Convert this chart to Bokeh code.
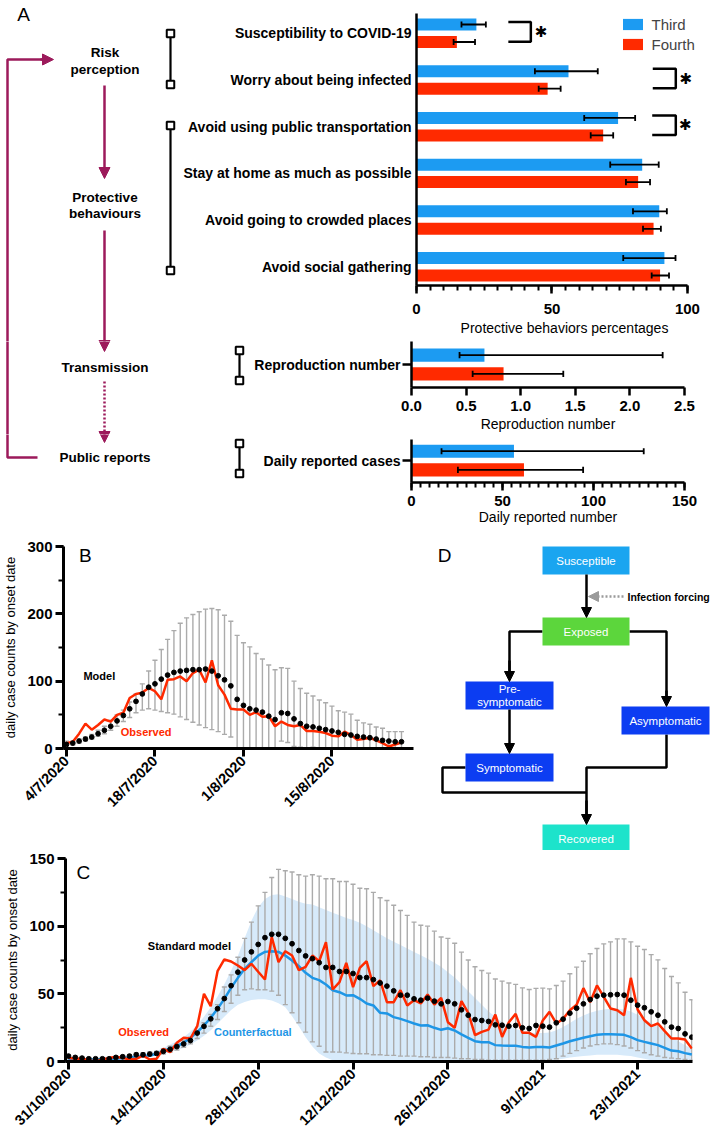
import math
from bokeh.plotting import figure
from bokeh.layouts import column, row
from bokeh.models import (Range1d, Arrow, NormalHead, SingleIntervalTicker, FixedTicker,
                          NumeralTickFormatter, Legend, LegendItem, Label)
from bokeh.core.properties import value
from bokeh.embed import file_html
from bokeh.resources import INLINE

# ---------------- data ----------------
categories = ["Susceptibility to COVID-19", "Worry about being infected",
              "Avoid using public transportation", "Stay at home as much as possible",
              "Avoid going to crowded places", "Avoid social gathering"]
third_pct = [22.1, 56.1, 74.4, 83.3, 89.6, 91.5]
third_lo = [16.6, 43.7, 61.9, 71.5, 79.9, 76.3]
third_hi = [25.6, 66.9, 80.7, 89.4, 92.4, 95.6]
fourth_pct = [14.9, 48.4, 68.9, 81.8, 87.5, 89.9]
fourth_lo = [13.7, 45.1, 64.3, 77.3, 83.6, 86.8]
fourth_hi = [21.6, 53.2, 72.6, 86.2, 90.2, 93.2]
significant = [0, 1, 2]
series_names = ["Third", "Fourth"]

r_label = ["Reproduction number"]
r_third = [0.668]; r_third_lo = [0.44]; r_third_hi = [2.30]
r_fourth = [0.843]; r_fourth_lo = [0.56]; r_fourth_hi = [1.39]

d_label = ["Daily reported cases"]
d_third = [56.3]; d_third_lo = [16.5]; d_third_hi = [127.6]
d_fourth = [61.8]; d_fourth_lo = [25.5]; d_fourth_hi = [94.3]

flow_node_lines = [["Risk", "perception"], ["Protective", "behaviours"], ["Transmission"], ["Public reports"]]

# Panel B (days from 4/7/2020)
b_tick_days = [0, 14, 28, 42]
b_tick_labels = ["4/7/2020", "18/7/2020", "1/8/2020", "15/8/2020"]
model_b = [6, 8, 11, 14, 17, 22, 27, 33, 41, 49, 59, 70, 81, 91, 96, 103, 109, 113, 115, 116,
           117, 117, 118, 115, 108, 102, 93, 73, 64, 59, 57, 54, 48, 43, 53, 52, 44, 37, 33, 32,
           30, 28, 26, 24, 21, 20, 18, 17, 16, 14, 12, 11, 10, 10]
upper_b = [11, 11, 14, 17, 21, 27, 33, 42, 50, 57, 69, 81, 96, 115, 131, 147, 162, 175, 186, 194,
           199, 203, 207, 208, 206, 198, 189, 168, 157, 151, 141, 133, 124, 117, 120, 119, 100, 89, 82, 78,
           72, 68, 63, 56, 54, 51, 42, 38, 36, 32, 30, 25, 25, 25]
lower_b = [4, 5, 8, 11, 14, 18, 22, 27, 33, 40, 46, 53, 57, 59, 57, 55, 53, 51, 47, 43,
           39, 35, 31, 28, 25, 21, 17, 0, 0, 0, 0, 0, 0, 0, 11, 9, 3, 2, 1, 2,
           1, 1, 0, 0, 0, 0, 0, 0, 0, 0, 0, 0, 0, 0]
obs_b = [8, 10, 22, 37, 28, 35, 43, 40, 50, 53, 75, 81, 83, 90, 85, 73, 102, 103, 107, 100,
         112, 117, 98, 131, 94, 80, 59, 58, 58, 50, 54, 47, 48, 33, 40, 35, 33, 35, 26, 26,
         25, 23, 19, 18, 25, 20, 13, 14, 16, 12, 8, 3, 6, 9]
days_b = list(range(len(model_b)))

# Panel C (days from 31/10/2020)
c_tick_days = [0, 14, 28, 42, 56, 70, 84]
c_tick_labels = ["31/10/2020", "14/11/2020", "28/11/2020", "12/12/2020",
                 "26/12/2020", "9/1/2021", "23/1/2021"]
model_c = [4, 3, 2.5, 2, 2, 2, 2, 3, 3.5, 4,
           5, 5, 5.5, 6, 7.5, 9, 11, 13, 15.5, 21,
           26, 31.5, 39, 46.5, 56, 66, 75, 81, 86.5, 91.5,
           94, 94, 91, 87, 82, 78, 76, 73, 69.5, 69.5,
           66.5, 66.5, 65, 62, 62, 60.5, 58, 55.7, 52.2, 49,
           49, 46.3, 45.3, 46.8, 44.6, 42.6, 44.3, 42.6, 38.2, 34.2,
           31, 30.3, 29.6, 27.1, 26.8, 26.1, 26.6, 24.9, 24.4, 26.6,
           26.1, 25.4, 28.6, 31.3, 35.7, 39.4, 42.6, 45.8, 48.3, 49,
           49.3, 49.5, 49, 45.3, 41.6, 39.7, 36.7, 34.2, 29.3, 25.4,
           24.4, 20.4, 18]
upper_c = [4.7, 4, 3.5, 3, 3, 3, 3, 4, 4.5, 5,
           6.4, 6.5, 7, 7.5, 9.4, 11.3, 13, 15.5, 18, 22.4,
           28.6, 34.7, 42, 55, 64, 77, 91, 103, 115, 125,
           136, 142, 141, 140, 138, 137, 138, 137, 135, 135,
           133, 133, 131, 128, 127.6, 125, 121, 119, 115.5, 111.6,
           108, 103, 100.7, 100, 96.3, 92, 91, 87.4, 80.8, 75,
           70, 67.2, 65.3, 61, 59.4, 58, 57, 54.4, 53.2, 54,
           54.2, 53.7, 56.2, 59.4, 64.8, 69.7, 74.1, 79.6, 83.5, 86.9,
           88.4, 90.6, 90.6, 88.4, 85.2, 82.8, 79, 75.1, 68.7, 62.8,
           58.1, 51.2, 45.6]
lower_c = [1, 1, 1, 1, 1, 1, 1, 1.5, 2, 2.5,
           3, 3.5, 4, 4.5, 5.5, 7, 8.5, 10.5, 13, 17,
           21, 26, 31, 37, 43, 49, 53, 53.7, 53, 53,
           52, 49, 42, 36, 28.6, 21.7, 14.5, 11.3, 7, 7,
           6.9, 6.4, 5.9, 5.7, 5.7, 5, 5, 4.5, 4.5, 4,
           4, 4, 3.5, 3.5, 3, 3, 3, 2.5, 2, 2,
           1.5, 1.5, 1, 1, 1, 1, 1, 1, 1, 1,
           1, 1.5, 2, 4, 6, 8, 10, 11.5, 12.5, 13,
           13, 12.5, 11.5, 10, 8, 6.5, 5, 4, 3, 2.5,
           2, 1.5, 1]
obs_c = [2.7, 2, 2.2, 1, 0, 1.5, 2.7, 3.4, 2.7, 1.5,
         2, 4.4, 1.5, 2, 9.4, 6.9, 13.8, 17.5, 17, 26.1,
         50, 40.9, 66.7, 75.4, 73.9, 70.9, 67.5, 72.2, 66.3, 60.6,
         92, 73.4, 81.5, 78.3, 67.5, 70, 78.3, 74.1, 88.2, 53.2,
         58.6, 72.9, 54.9, 69.2, 74.1, 55.7, 60, 43.8, 43.8, 52.7,
         41.4, 45.3, 42.9, 49.5, 42.1, 47, 29, 24.9, 44.6, 36,
         19.5, 21.9, 23.6, 34.7, 18.2, 29, 35.2, 21.2, 21.2, 18.2,
         30.3, 36.7, 28.1, 31.5, 37.9, 41.9, 54.2, 43.8, 56.2, 47.8,
         39.2, 37.9, 34.2, 61.8, 38.4, 30.5, 26.1, 28.1, 22.4, 17,
         17, 16.3, 9.6]
cf_c = [2, 1.5, 1.5, 1.5, 1.5, 1.5, 2, 2, 2.5, 3,
        3.5, 4, 4.5, 5.5, 7.6, 9.6, 11.3, 13.8, 17.5, 21.7,
        26.6, 32.3, 38.9, 46.3, 54.4, 61.8, 68.5, 73.4, 78.3, 81,
        81.5, 81, 78.3, 74.6, 70.4, 65.5, 61.8, 60.1, 56.9, 52.7,
        51.2, 48.8, 49, 46.3, 42.9, 41.4, 36, 35.5, 32.8, 31.5,
        29.8, 28.1, 26.6, 26.8, 24.9, 23.4, 24.6, 22.9, 20, 17.5,
        15, 14.3, 14.3, 12.1, 11.8, 11.6, 11.6, 10.8, 10.3, 10.8,
        10.8, 10.3, 11.8, 13.3, 15, 16.3, 17.5, 18.7, 19.7, 20.2,
        20.2, 20, 19.7, 18, 15.8, 14.5, 13.3, 12.1, 10.1, 8.1,
        7.6, 6.2, 5.2]
cf_hi = [3, 2.5, 2.5, 2.5, 2.5, 2.5, 3, 3, 3.5, 4,
         5, 5.5, 6.5, 7.5, 10, 12.5, 15, 18, 22, 27,
         33, 40, 48, 57, 67, 78, 91, 104, 114, 120,
         123, 123.5, 122, 120, 118, 116.5, 116, 114, 112, 110,
         108, 106, 104.5, 102.5, 100, 97, 94, 91, 88.5, 86,
         83.5, 81, 78.5, 76, 73, 70, 66, 62, 57, 52,
         47, 42, 37, 33, 29, 26, 24, 22.5, 21.5, 21,
         21, 21.5, 23, 25.5, 28.5, 31.5, 34, 36, 37.5, 38.5,
         39, 39, 38.5, 37, 34.5, 31.5, 28.5, 25.5, 22, 18.5,
         15, 12, 9.5]
cf_lo = [1, 1, 1, 1, 1, 1, 1, 1.5, 1.5, 2,
         2.5, 3, 3.5, 4, 5.5, 7, 8.5, 10, 12.5, 15.5,
         19, 23, 28, 33, 38, 42, 44, 45.5, 46, 46,
         45, 43, 40, 33.5, 26, 18, 11, 6, 3, 1,
         0.5, 0.3, 0.3, 0.3, 0.3, 0.3, 0.3, 0.3, 0.3, 0.3,
         0.3, 0.3, 0.3, 0.3, 0.3, 0.3, 0.3, 0.3, 0.3, 0.3,
         0.3, 0.3, 0.3, 0.3, 0.3, 0.3, 0.3, 0.3, 0.3, 0.3,
         0.5, 1, 1.5, 2, 3, 3.5, 4, 4.5, 5, 5,
         5, 5, 4.5, 4, 3, 2, 1, 0.5, 0.3, 0.3,
         0.3, 0.3, 0.3]
days_c = list(range(len(model_c)))

d_nodes = ["Susceptible", "Exposed", "Pre-|symptomatic", "Asymptomatic", "Symptomatic", "Recovered"]

# ---------------- style ----------------
FONT = "Liberation Sans"
NARROW = "Liberation Sans Narrow, Liberation Sans"
BLUE = "#1C9BF2"
RED = "#FF2A00"
MAG = "#9C1A5B"
GRAY = "#ABABAB"
CFBLUE = "#1E96E6"
BAND = "#D7EAFA"


def canvas(x0, x1, y0, y1):
    p = figure(width=x1 - x0, height=y1 - y0, x_range=Range1d(x0, x1), y_range=Range1d(y1, y0),
               x_axis_type=None, y_axis_type=None, output_backend="svg",
               toolbar_location=None, min_border=0, frame_align=False)
    p.outline_line_color = None
    return p


def txt(p, x, y, t, size, bold=True, color="black", align="center", font=FONT):
    p.text(x=x, y=y, text=t, text_font=value(font), text_font_size=size,
           text_font_style="bold" if bold else "normal", text_color=color,
           text_align=align, text_baseline="middle")


def draw_flow_A(p, y0, y1):
    if y0 <= 13.5 <= y1:
        txt(p, [23], [13.5], ["A"], "19px", bold=False)
    centers = [60.5, 205, 367, 457]
    xs, ys, ts = [], [], []
    for lines, yc in zip(flow_node_lines, centers):
        n = len(lines)
        for k, t in enumerate(lines):
            yy = yc + (k - (n - 1) / 2) * 16.5
            if y0 + 8 <= yy <= y1 - 8:
                xs.append(104.5)
                ys.append(yy)
                ts.append(t)
    if ts:
        txt(p, xs, ys, ts, "13.5px")
    p.line([37, 7, 7, 44], [457, 457, 59, 59], line_color=MAG, line_width=2.5)
    head = dict(size=11, fill_color=MAG, line_color=MAG, line_width=1)
    p.add_layout(Arrow(end=NormalHead(**head), x_start=40, y_start=59, x_end=53, y_end=59,
                       line_color=MAG, line_width=2.5))
    p.add_layout(Arrow(end=NormalHead(**head), x_start=104, y_start=85, x_end=104, y_end=178,
                       line_color=MAG, line_width=2.5))
    p.add_layout(Arrow(end=NormalHead(**head), x_start=104, y_start=230, x_end=104, y_end=351,
                       line_color=MAG, line_width=2.5))
    p.add_layout(Arrow(end=NormalHead(**head), x_start=104, y_start=381, x_end=104, y_end=442,
                       line_color=MAG, line_width=2.5, line_dash="2 2"))
    for (x, ya, yb) in [(170, 33, 84), (170, 125, 270), (239, 350, 380), (239, 443, 473)]:
        p.line([x, x], [ya, yb], line_color="black", line_width=2.2)
        p.scatter([x, x], [ya, yb], marker="square", size=7.5, fill_color="white",
                  line_color="black", line_width=2)


def style_axis(ax, size="15px", lw=2.5):
    ax.axis_line_width = lw
    ax.axis_line_color = "black"
    ax.major_tick_line_width = lw
    ax.major_tick_line_color = "black"
    ax.minor_tick_line_width = 2
    ax.minor_tick_line_color = "black"
    ax.major_tick_in = 0
    ax.minor_tick_in = 0
    ax.major_label_text_font = FONT
    ax.major_label_text_font_style = "bold"
    ax.major_label_text_font_size = size
    ax.major_label_text_color = "black"
    ax.axis_label_text_font_style = "normal"
    ax.axis_label_text_color = "black"


def hbars_with_err(p, yc, off, h, vals, lo, hi, color, cap):
    ys = [y + off for y in yc]
    r = p.hbar(y=ys, left=0, right=vals, height=h, fill_color=color, line_color=None)
    p.segment(x0=lo, y0=ys, x1=hi, y1=ys, line_color="black", line_width=1.8)
    p.segment(x0=lo, y0=[y - cap for y in ys], x1=lo, y1=[y + cap for y in ys],
              line_color="black", line_width=1.8)
    p.segment(x0=hi, y0=[y - cap for y in ys], x1=hi, y1=[y + cap for y in ys],
              line_color="black", line_width=1.8)
    return r


# ---------------- panel A: bars ----------------
p1 = figure(width=535, height=341, x_range=Range1d(0, 109.25), y_range=Range1d(5.401, -0.423),
            output_backend="svg", toolbar_location=None, min_border_left=232,
            min_border_right=3, min_border_top=13, min_border_bottom=56, frame_align=False)
idx = list(range(len(categories)))
rb = hbars_with_err(p1, idx, -0.187, 0.257, third_pct, third_lo, third_hi, BLUE, 0.065)
rr = hbars_with_err(p1, idx, 0.187, 0.257, fourth_pct, fourth_lo, fourth_hi, RED, 0.065)
p1.grid.visible = False
p1.outline_line_color = None
style_axis(p1.xaxis[0])
style_axis(p1.yaxis[0], size="14px")
p1.xaxis.bounds = (0, 100)
p1.xaxis.ticker = SingleIntervalTicker(interval=50, num_minor_ticks=10)
p1.xaxis.major_tick_out = 8
p1.xaxis.minor_tick_out = 5
p1.xaxis.major_label_standoff = 10
p1.xaxis.axis_label = "Protective behaviors percentages"
p1.xaxis.axis_label_text_font = NARROW
p1.xaxis.axis_label_text_font_size = "14px"
p1.xaxis.axis_label_standoff = 3
p1.yaxis.ticker = FixedTicker(ticks=idx)
p1.yaxis.major_label_overrides = {i: c for i, c in enumerate(categories)}
p1.yaxis.major_tick_out = 0
p1.yaxis.minor_tick_out = 0
p1.yaxis.major_label_standoff = 5
sx = {0: (33.9, 42.2, 46.0), 1: (87.2, 95.7, 99.4), 2: (87.0, 95.7, 99.2)}
bxs, bys = [], []
for g in significant:
    a, b, s = sx[g]
    bxs.append([a, b, b, a])
    bys.append([g - 0.24, g - 0.24, g + 0.18, g + 0.18])
    p1.add_layout(Label(x=s, y=g - 0.03, text="\u2731", text_font="DejaVu Sans",
                        text_font_size="15px", text_align="center", text_baseline="middle",
                        text_color="black"))
p1.multi_line(xs=bxs, ys=bys, line_color="black", line_width=2.5)
legend = Legend(items=[LegendItem(label=series_names[0], renderers=[rb]),
                       LegendItem(label=series_names[1], renderers=[rr])],
                location=(203.5, 231), border_line_color=None, background_fill_alpha=0,
                padding=0, margin=0, spacing=0, label_standoff=7, glyph_width=25,
                glyph_height=14, label_height=20, label_text_font_size="15px",
                label_text_font=FONT)
p1.add_layout(legend)


def small_bar(width, height, xmax, yr, top, bottom, label, t, tlo, thi, f, flo, fhi, xlabel):
    p = figure(width=width, height=height, x_range=Range1d(0, xmax), y_range=Range1d(*yr),
               output_backend="svg", toolbar_location=None, min_border_left=161,
               min_border_right=31, min_border_top=top, min_border_bottom=bottom,
               frame_align=False)
    hbars_with_err(p, [0], -0.2, 0.28, t, tlo, thi, BLUE, 0.065)
    hbars_with_err(p, [0], 0.2, 0.28, f, flo, fhi, RED, 0.065)
    p.grid.visible = False
    p.outline_line_color = None
    style_axis(p.xaxis[0])
    style_axis(p.yaxis[0], size="14px")
    p.xaxis.major_tick_out = 8
    p.xaxis.minor_tick_out = 5
    p.xaxis.major_label_standoff = 5
    p.xaxis.axis_label = xlabel
    p.xaxis.axis_label_text_font = NARROW
    p.xaxis.axis_label_text_font_size = "14px"
    p.xaxis.axis_label_standoff = 2
    p.yaxis.ticker = FixedTicker(ticks=[0])
    p.yaxis.major_label_overrides = {0: label[0]}
    p.yaxis.major_tick_out = 9
    p.yaxis.major_label_standoff = 2
    return p


p2 = small_bar(465, 93, 2.5, (0.4925, -0.4925), 0, 47, r_label, r_third, r_third_lo, r_third_hi,
               r_fourth, r_fourth_lo, r_fourth_hi, "Reproduction number")
p2.xaxis.ticker = SingleIntervalTicker(interval=0.5, num_minor_ticks=0)
p2.xaxis.formatter = NumeralTickFormatter(format="0.0")
p3 = small_bar(465, 96, 150, (0.471, -0.45), 5, 48, d_label, d_third, d_third_lo, d_third_hi,
               d_fourth, d_fourth_lo, d_fourth_hi, "Daily reported number")
p3.xaxis.ticker = SingleIntervalTicker(interval=50, num_minor_ticks=10)
p3.xaxis.axis_label_standoff = 0

c1 = canvas(0, 180, 0, 341)
c2 = canvas(0, 250, 341, 434)
c3 = canvas(0, 250, 434, 530)
draw_flow_A(c1, 0, 341)
draw_flow_A(c2, 341, 434)
draw_flow_A(c3, 434, 530)


# ---------------- time series ----------------
def ts_fig(width, height, xr, ymax, borders):
    l, r, t, b = borders
    p = figure(width=width, height=height, x_range=Range1d(*xr), y_range=Range1d(0, ymax),
               output_backend="svg", toolbar_location=None, min_border_left=l,
               min_border_right=r, min_border_top=t, min_border_bottom=b, frame_align=False)
    p.grid.visible = False
    p.outline_line_color = None
    style_axis(p.xaxis[0], size="14.5px", lw=3)
    style_axis(p.yaxis[0], lw=3)
    for ax in (p.xaxis[0], p.yaxis[0]):
        ax.major_tick_out = 8
        ax.minor_tick_out = 5
    p.xaxis.major_label_orientation = math.pi / 4
    p.xaxis.major_label_standoff = 2
    p.yaxis.major_label_standoff = 3
    p.yaxis.axis_label = "daily case counts by onset date"
    p.yaxis.axis_label_text_font = FONT
    p.yaxis.axis_label_text_font_size = "13px"
    p.yaxis.axis_label_standoff = 6
    return p


def err(p, days, lo, hi, cap):
    p.segment(x0=days, y0=lo, x1=days, y1=hi, line_color=GRAY, line_width=1.4)
    p.segment(x0=[d - cap for d in days], y0=hi, x1=[d + cap for d in days], y1=hi,
              line_color=GRAY, line_width=1.4)
    p.segment(x0=[d - cap for d in days], y0=lo, x1=[d + cap for d in days], y1=lo,
              line_color=GRAY, line_width=1.4)


pB = ts_fig(420, 320, (-0.47, 54.9), 300, (61, 7, 16, 102))
err(pB, days_b, lower_b, upper_b, 0.4)
pB.line(days_b, obs_b, line_color=RED, line_width=2.5)
pB.scatter(days_b, model_b, size=4.8, color="black")
pB.xaxis.ticker = FixedTicker(ticks=b_tick_days)
pB.xaxis.major_label_overrides = dict(zip(b_tick_days, b_tick_labels))
pB.yaxis.ticker = SingleIntervalTicker(interval=100, num_minor_ticks=2)
txt(pB, [2.0], [287], ["B"], "19px", bold=False, align="left")
txt(pB, [5.2], [108], ["Model"], "11px")
txt(pB, [12.6], [24], ["Observed"], "11px", color=RED)

pC = ts_fig(715, 287, (-0.44, 92.1), 150, (65, 23, 8, 75))
pC.varea(x=days_c, y1=cf_lo, y2=cf_hi, fill_color=BAND)
err(pC, days_c, lower_c, upper_c, 0.37)
pC.line(days_c, cf_c, line_color=CFBLUE, line_width=2.5)
pC.line(days_c, obs_c, line_color=RED, line_width=2.5)
pC.scatter(days_c, model_c, size=4.8, color="black")
pC.xaxis.ticker = FixedTicker(ticks=c_tick_days)
pC.xaxis.major_label_overrides = dict(zip(c_tick_days, c_tick_labels))
pC.yaxis.ticker = SingleIntervalTicker(interval=50, num_minor_ticks=2)
txt(pC, [1.2], [140], ["C"], "19px", bold=False, align="left")
txt(pC, [17.85], [85], ["Standard model"], "11px")
txt(pC, [11.1], [22], ["Observed"], "11px", color=RED)
txt(pC, [27.2], [22], ["Counterfactual"], "11px", color=CFBLUE)

# ---------------- panel D ----------------
pD = canvas(420, 715, 530, 850)
txt(pD, [444], [555], ["D"], "19px", bold=False)
box_l = [542, 542, 465, 621, 465, 542]
box_r = [629, 629, 553, 709, 553, 629]
box_t = [546, 617, 681, 706, 753, 824]
box_b = [574, 645, 709, 734, 781, 852]
box_c = ["#1AA5F0", "#5CD63C", "#0C3DF2", "#0C3DF2", "#0C3DF2", "#1DE3CB"]
pD.multi_line(xs=[[542, 509, 509], [629, 666, 666], [465, 442, 442, 586], [666, 666, 586, 586]],
              ys=[[631, 631, 672], [631, 631, 697], [767, 767, 792, 792], [734, 767, 767, 815]],
              line_color="black", line_width=2.5)
ah = dict(size=10, fill_color="black", line_color="black", line_width=1)
for (x0, y0, x1, y1) in [(586, 574, 586, 617), (509, 660, 509, 681), (666, 690, 666, 706),
                         (509, 709, 509, 753), (586, 800, 586, 824)]:
    pD.add_layout(Arrow(end=NormalHead(**ah), x_start=x0, y_start=y0, x_end=x1, y_end=y1,
                        line_color="black", line_width=2.5))
pD.quad(left=box_l, right=box_r, top=box_t, bottom=box_b, fill_color=box_c, line_color=None)
lx, ly, lt = [], [], []
for name, l, r, t, b in zip(d_nodes, box_l, box_r, box_t, box_b):
    parts = name.split("|")
    for k, s in enumerate(parts):
        lx.append((l + r) / 2)
        ly.append((t + b) / 2 + (k - (len(parts) - 1) / 2) * 13)
        lt.append(s)
txt(pD, lx, ly, lt, "11.5px", bold=False, color="white")
pD.line([597, 623], [596, 596], line_color="#9A9A9A", line_width=2.5, line_dash="2 2")
pD.add_layout(Arrow(end=NormalHead(size=10, fill_color="#9A9A9A", line_color="#9A9A9A"),
                    x_start=598, y_start=596, x_end=588, y_end=596,
                    line_color="#9A9A9A", line_width=2.5))
txt(pD, [627], [596], ["Infection forcing"], "10.5px", align="left")

layout = column(row(c1, p1), row(c2, p2), row(c3, p3), row(pB, pD), pC)
open("out.html", "w").write(file_html(layout, INLINE, "chart"))
